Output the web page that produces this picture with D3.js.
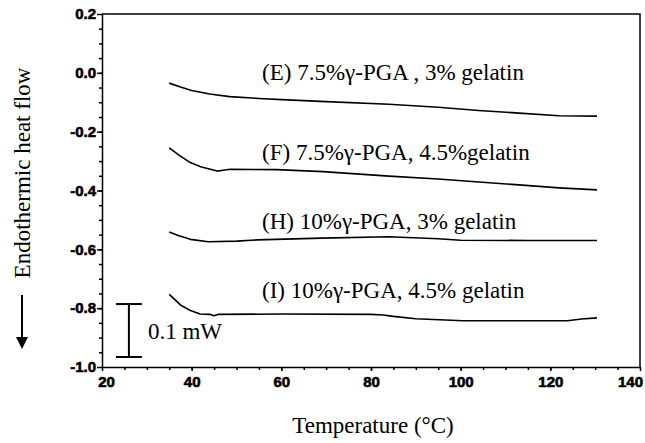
<!DOCTYPE html>
<html>
<head>
<meta charset="utf-8">
<script src="https://cdn.jsdelivr.net/npm/d3@7"></script>
<style>
  body { margin: 0; background: #fff; }
  .serif { font-family: "Liberation Serif", "Times New Roman", serif; fill: #000; }
  .axis path, .axis line { stroke: #000; stroke-width: 1.5; }
</style>
</head>
<body>
<div id="chart"></div>
<script>
// ---------- Data ----------
const X_TICKS = [20, 40, 60, 80, 100, 120, 140];
const Y_TICKS = [0.2, 0.0, -0.2, -0.4, -0.6, -0.8, -1.0];

const E_TEMP = [35, 37.5, 40, 44, 48.5, 55, 61.3, 70, 84, 95, 104, 113, 122, 130.4];
const E_FLOW = [-0.035, -0.048, -0.06, -0.072, -0.081, -0.087, -0.092, -0.098, -0.107, -0.117, -0.128, -0.137, -0.146, -0.147];

const F_TEMP = [35, 37, 39.7, 42, 45.7, 47, 48.6, 59, 69.3, 84, 95, 104, 113, 122, 130.4];
const F_FLOW = [-0.255, -0.278, -0.305, -0.319, -0.334, -0.331, -0.328, -0.329, -0.336, -0.351, -0.361, -0.371, -0.381, -0.391, -0.398];

const H_TEMP = [35, 37, 39.7, 43.7, 50, 54.6, 69, 84, 95, 100, 115, 130.4];
const H_FLOW = [-0.541, -0.553, -0.566, -0.574, -0.572, -0.568, -0.562, -0.557, -0.564, -0.569, -0.57, -0.57];

const I_TEMP = [35, 37.5, 39.7, 41.9, 44, 45, 46, 60, 80, 82.7, 85, 90, 100.5, 110, 123.8, 127, 130.4];
const I_FLOW = [-0.753, -0.789, -0.808, -0.82, -0.821, -0.826, -0.821, -0.82, -0.821, -0.823, -0.828, -0.836, -0.843, -0.843, -0.843, -0.837, -0.833];

const LABELS = [
  "(E) 7.5%γ-PGA , 3% gelatin",
  "(F) 7.5%γ-PGA, 4.5%gelatin",
  "(H) 10%γ-PGA, 3% gelatin",
  "(I) 10%γ-PGA, 4.5% gelatin"
];
const LABEL_T = 55.7;
const LABEL_Y = [0.003, -0.269, -0.504, -0.738];

// 0.1 mW scale bar, drawn in plot units
const BAR_T = 26;
const BAR_HALF = 2.9;
const BAR_Y = [-0.786, -0.966];

// ---------- Layout ----------
const width = 645, height = 443;
const margin = { top: 14, right: 5, bottom: 76, left: 102 };
const SERIF_SIZE = "23px";

const svg = d3.select("#chart").append("svg")
  .attr("width", width).attr("height", height);

const x = d3.scaleLinear().domain([20, 140]).range([margin.left, width - margin.right]);
const y = d3.scaleLinear().domain([-1.0, 0.2]).range([height - margin.bottom, margin.top]);

const fmt = d3.formatLocale({ decimal: ".", thousands: ",", grouping: [3], currency: ["", ""], minus: "-" }).format(".1f");

// heavy tick labels (set on the axis group so the text inherits)
const tickFont = g => g
  .attr("font-family", "'Liberation Sans', Arial, sans-serif")
  .attr("font-size", 15)
  .attr("font-weight", "bold")
  .call(g => g.selectAll("text")
    .attr("fill", "#000")
    .attr("stroke", "#000")
    .attr("stroke-width", 0.6));

// minor ticks
svg.append("g")
  .attr("class", "axis")
  .attr("transform", `translate(0,${y(-1.0)})`)
  .call(d3.axisBottom(x).tickValues(d3.range(25, 140, 5)).tickSize(3).tickFormat(""))
  .call(g => g.select(".domain").remove());

svg.append("g")
  .attr("class", "axis")
  .attr("transform", `translate(${x(20)},0)`)
  .call(d3.axisLeft(y).tickValues(d3.range(-0.95, 0.2, 0.05)).tickSize(3).tickFormat(""))
  .call(g => g.select(".domain").remove());

// main axes
svg.append("g")
  .attr("class", "axis")
  .attr("transform", `translate(0,${y(-1.0)})`)
  .call(d3.axisBottom(x).tickValues(X_TICKS).tickSize(4).tickPadding(5).tickSizeOuter(0))
  .call(tickFont)
  .call(g => g.selectAll("text")
    .attr("dx", d => d === 20 ? 4 : d === 140 ? -10 : 0));

svg.append("g")
  .attr("class", "axis")
  .attr("transform", `translate(${x(20)},0)`)
  .call(d3.axisLeft(y).tickValues(Y_TICKS).tickSize(5).tickPadding(1).tickFormat(fmt).tickSizeOuter(0))
  .call(tickFont);

// frame: top and right
svg.append("path")
  .attr("d", `M${x(20)},${y(0.2)}H${x(140)}V${y(-1.0)}`)
  .attr("fill", "none")
  .attr("stroke", "#000")
  .attr("stroke-width", 1.5);

// ---------- Curves ----------
const line = d3.line().x(d => x(d[0])).y(d => y(d[1]));
const series = [
  d3.zip(E_TEMP, E_FLOW),
  d3.zip(F_TEMP, F_FLOW),
  d3.zip(H_TEMP, H_FLOW),
  d3.zip(I_TEMP, I_FLOW)
];

svg.append("g").selectAll("path")
  .data(series).join("path")
    .attr("d", line)
    .attr("fill", "none")
    .attr("stroke", "#000")
    .attr("stroke-width", 1.6)
    .attr("stroke-linejoin", "round");

svg.append("g").selectAll("text")
  .data(LABELS).join("text")
    .attr("class", "serif")
    .attr("x", x(LABEL_T))
    .attr("y", (d, i) => y(LABEL_Y[i]))
    .attr("dy", "0.35em")
    .style("font-size", SERIF_SIZE)
    .text(d => d);

// ---------- Scale bar ----------
const bar = svg.append("g").attr("stroke", "#000").attr("stroke-width", 2);
bar.append("line")
  .attr("x1", x(BAR_T)).attr("x2", x(BAR_T))
  .attr("y1", y(BAR_Y[0])).attr("y2", y(BAR_Y[1]));
BAR_Y.forEach(v => {
  bar.append("line")
    .attr("x1", x(BAR_T - BAR_HALF)).attr("x2", x(BAR_T + BAR_HALF))
    .attr("y1", y(v)).attr("y2", y(v));
});
svg.append("text")
  .attr("class", "serif")
  .attr("x", x(BAR_T) + 19)
  .attr("y", y(d3.mean(BAR_Y)))
  .attr("dy", "0.35em")
  .style("font-size", SERIF_SIZE)
  .text("0.1 mW");

// ---------- Axis titles ----------
svg.append("text")
  .attr("class", "serif")
  .attr("x", (x(20) + x(140)) / 2 + 2)
  .attr("y", 425)
  .attr("dy", "0.35em")
  .attr("text-anchor", "middle")
  .style("font-size", SERIF_SIZE)
  .text("Temperature (°C)");

svg.append("text")
  .attr("class", "serif")
  .attr("transform", "translate(22,173) rotate(-90)")
  .attr("dy", "0.35em")
  .attr("text-anchor", "middle")
  .style("font-size", SERIF_SIZE)
  .text("Endothermic heat flow");

// downward arrow
svg.append("line")
  .attr("x1", 22).attr("x2", 22)
  .attr("y1", 295).attr("y2", 339)
  .attr("stroke", "#000").attr("stroke-width", 2);
svg.append("path")
  .attr("d", "M16,337L28,337L22,349Z")
  .attr("fill", "#000");
</script>
</body>
</html>
